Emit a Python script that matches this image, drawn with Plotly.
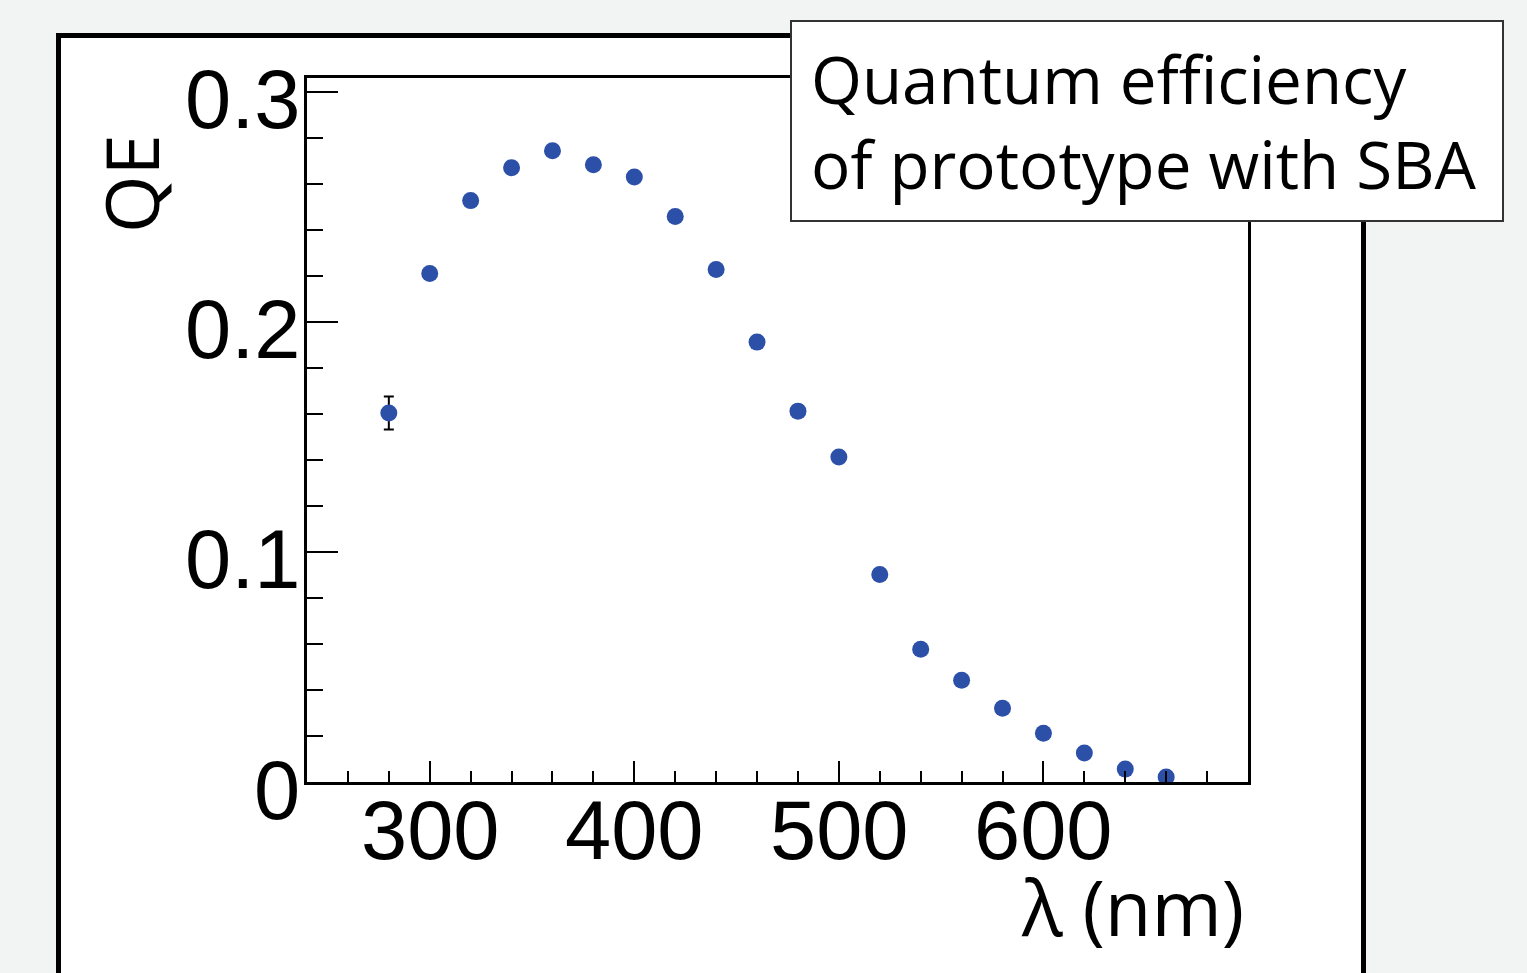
import plotly.graph_objects as go

# Data
wavelength_nm = [280, 300, 320, 340, 360, 380, 400, 420, 440, 460,
                 480, 500, 520, 540, 560, 580, 600, 620, 640, 660]
qe = [0.1604, 0.2210, 0.2527, 0.2670, 0.2744, 0.2683, 0.2630, 0.2458, 0.2228, 0.1912,
      0.1612, 0.1413, 0.0902, 0.0577, 0.0442, 0.0321, 0.0212, 0.0126, 0.0056, 0.0022]
qe_err = [0.0072, 0.0020, 0.0020, 0.0020, 0.0020, 0.0020, 0.0020, 0.0020, 0.0020, 0.0020,
          0.0020, 0.0020, 0.0020, 0.0015, 0.0015, 0.0015, 0.0015, 0.0010, 0.0010, 0.0010]

x_tick_vals = [300, 400, 500, 600]
x_tick_text = ["300", "400", "500", "600"]
y_tick_vals = [0, 0.1, 0.2, 0.3]
y_tick_text = ["0", "0.1", "0.2", "0.3"]

x_title = "λ (nm)"
y_title = "QE"
box_text = "Quantum efficiency<br>of prototype with SBA"

W, H = 1527, 973
L, R, T, B = 307, 1248, 78, 782
pw, ph = R - L, B - T


def px(x):
    return (x - L) / pw


def py(y):
    return (B - y) / ph


fig = go.Figure()
fig.add_trace(go.Scatter(
    x=wavelength_nm, y=qe, mode="markers",
    marker=dict(color="#2c4fa8", size=17, line=dict(width=0)),
    error_y=dict(type="data", array=qe_err, visible=True, color="black",
                 thickness=2, width=5),
    hoverinfo="skip", showlegend=False,
))

tickfont = dict(family="Liberation Sans, Arial, sans-serif", size=83, color="black")

annotations = []
for v, t in zip(x_tick_vals, x_tick_text):
    annotations.append(dict(text=t, xref="x", yref="paper", x=v, y=py(830),
                            xanchor="center", yanchor="middle", showarrow=False,
                            font=tickfont))
for v, t in zip(y_tick_vals, y_tick_text):
    annotations.append(dict(text=t, xref="paper", yref="y", x=px(302), y=v,
                            yshift=-8, xanchor="right", yanchor="middle",
                            showarrow=False, font=tickfont))

annotations += [
    dict(text=y_title, xref="paper", yref="paper", x=px(131), y=py(184),
         xanchor="center", yanchor="middle", textangle=-90, showarrow=False,
         font=dict(family="Open Sans, sans-serif", size=74, color="black")),
    dict(text=x_title, xref="paper", yref="paper", x=px(1246), y=py(906),
         xanchor="right", yanchor="middle", showarrow=False,
         font=dict(family="Open Sans, sans-serif", size=76, color="black")),
    dict(text=box_text, xref="paper", yref="paper", x=px(809), y=py(121),
         xanchor="left", yanchor="middle", align="left", showarrow=False,
         font=dict(family="Open Sans, sans-serif", size=65.5, color="black")),
]

fig.update_layout(
    width=W, height=H,
    margin=dict(l=L, r=W - R, t=T, b=H - B, pad=0),
    paper_bgcolor="#f2f3f3",
    plot_bgcolor="white",
    showlegend=False,
    xaxis=dict(
        range=[240, 700], showgrid=False, zeroline=False,
        showline=True, linecolor="black", linewidth=3, mirror=True,
        ticks="inside", ticklen=21, tickwidth=2, tickcolor="black",
        tickmode="array", tickvals=x_tick_vals, showticklabels=False,
        minor=dict(ticks="inside", ticklen=11, tickwidth=2, tickcolor="black",
                   tickmode="linear", dtick=20, tick0=0, showgrid=False),
    ),
    yaxis=dict(
        range=[0, 0.306], showgrid=False, zeroline=False,
        showline=True, linecolor="black", linewidth=3, mirror=True,
        ticks="inside", ticklen=31, tickwidth=2, tickcolor="black",
        tickmode="array", tickvals=y_tick_vals, showticklabels=False,
        minor=dict(ticks="inside", ticklen=16, tickwidth=2, tickcolor="black",
                   tickmode="linear", dtick=0.02, tick0=0, showgrid=False),
    ),
    shapes=[
        dict(type="rect", xref="paper", yref="paper", layer="below",
             x0=px(58.5), x1=px(1363.5), y0=py(1000), y1=py(35.5),
             fillcolor="white", line=dict(color="black", width=5)),
        dict(type="rect", xref="paper", yref="paper", layer="above",
             x0=px(791), x1=px(1503), y0=py(221), y1=py(21),
             fillcolor="white", line=dict(color="#333333", width=2)),
    ],
    annotations=annotations,
)

fig.write_html(
    "out.html",
    config={"displayModeBar": False},
    post_script="document.body.style.margin='0';document.body.style.background='#f2f3f3';",
)
